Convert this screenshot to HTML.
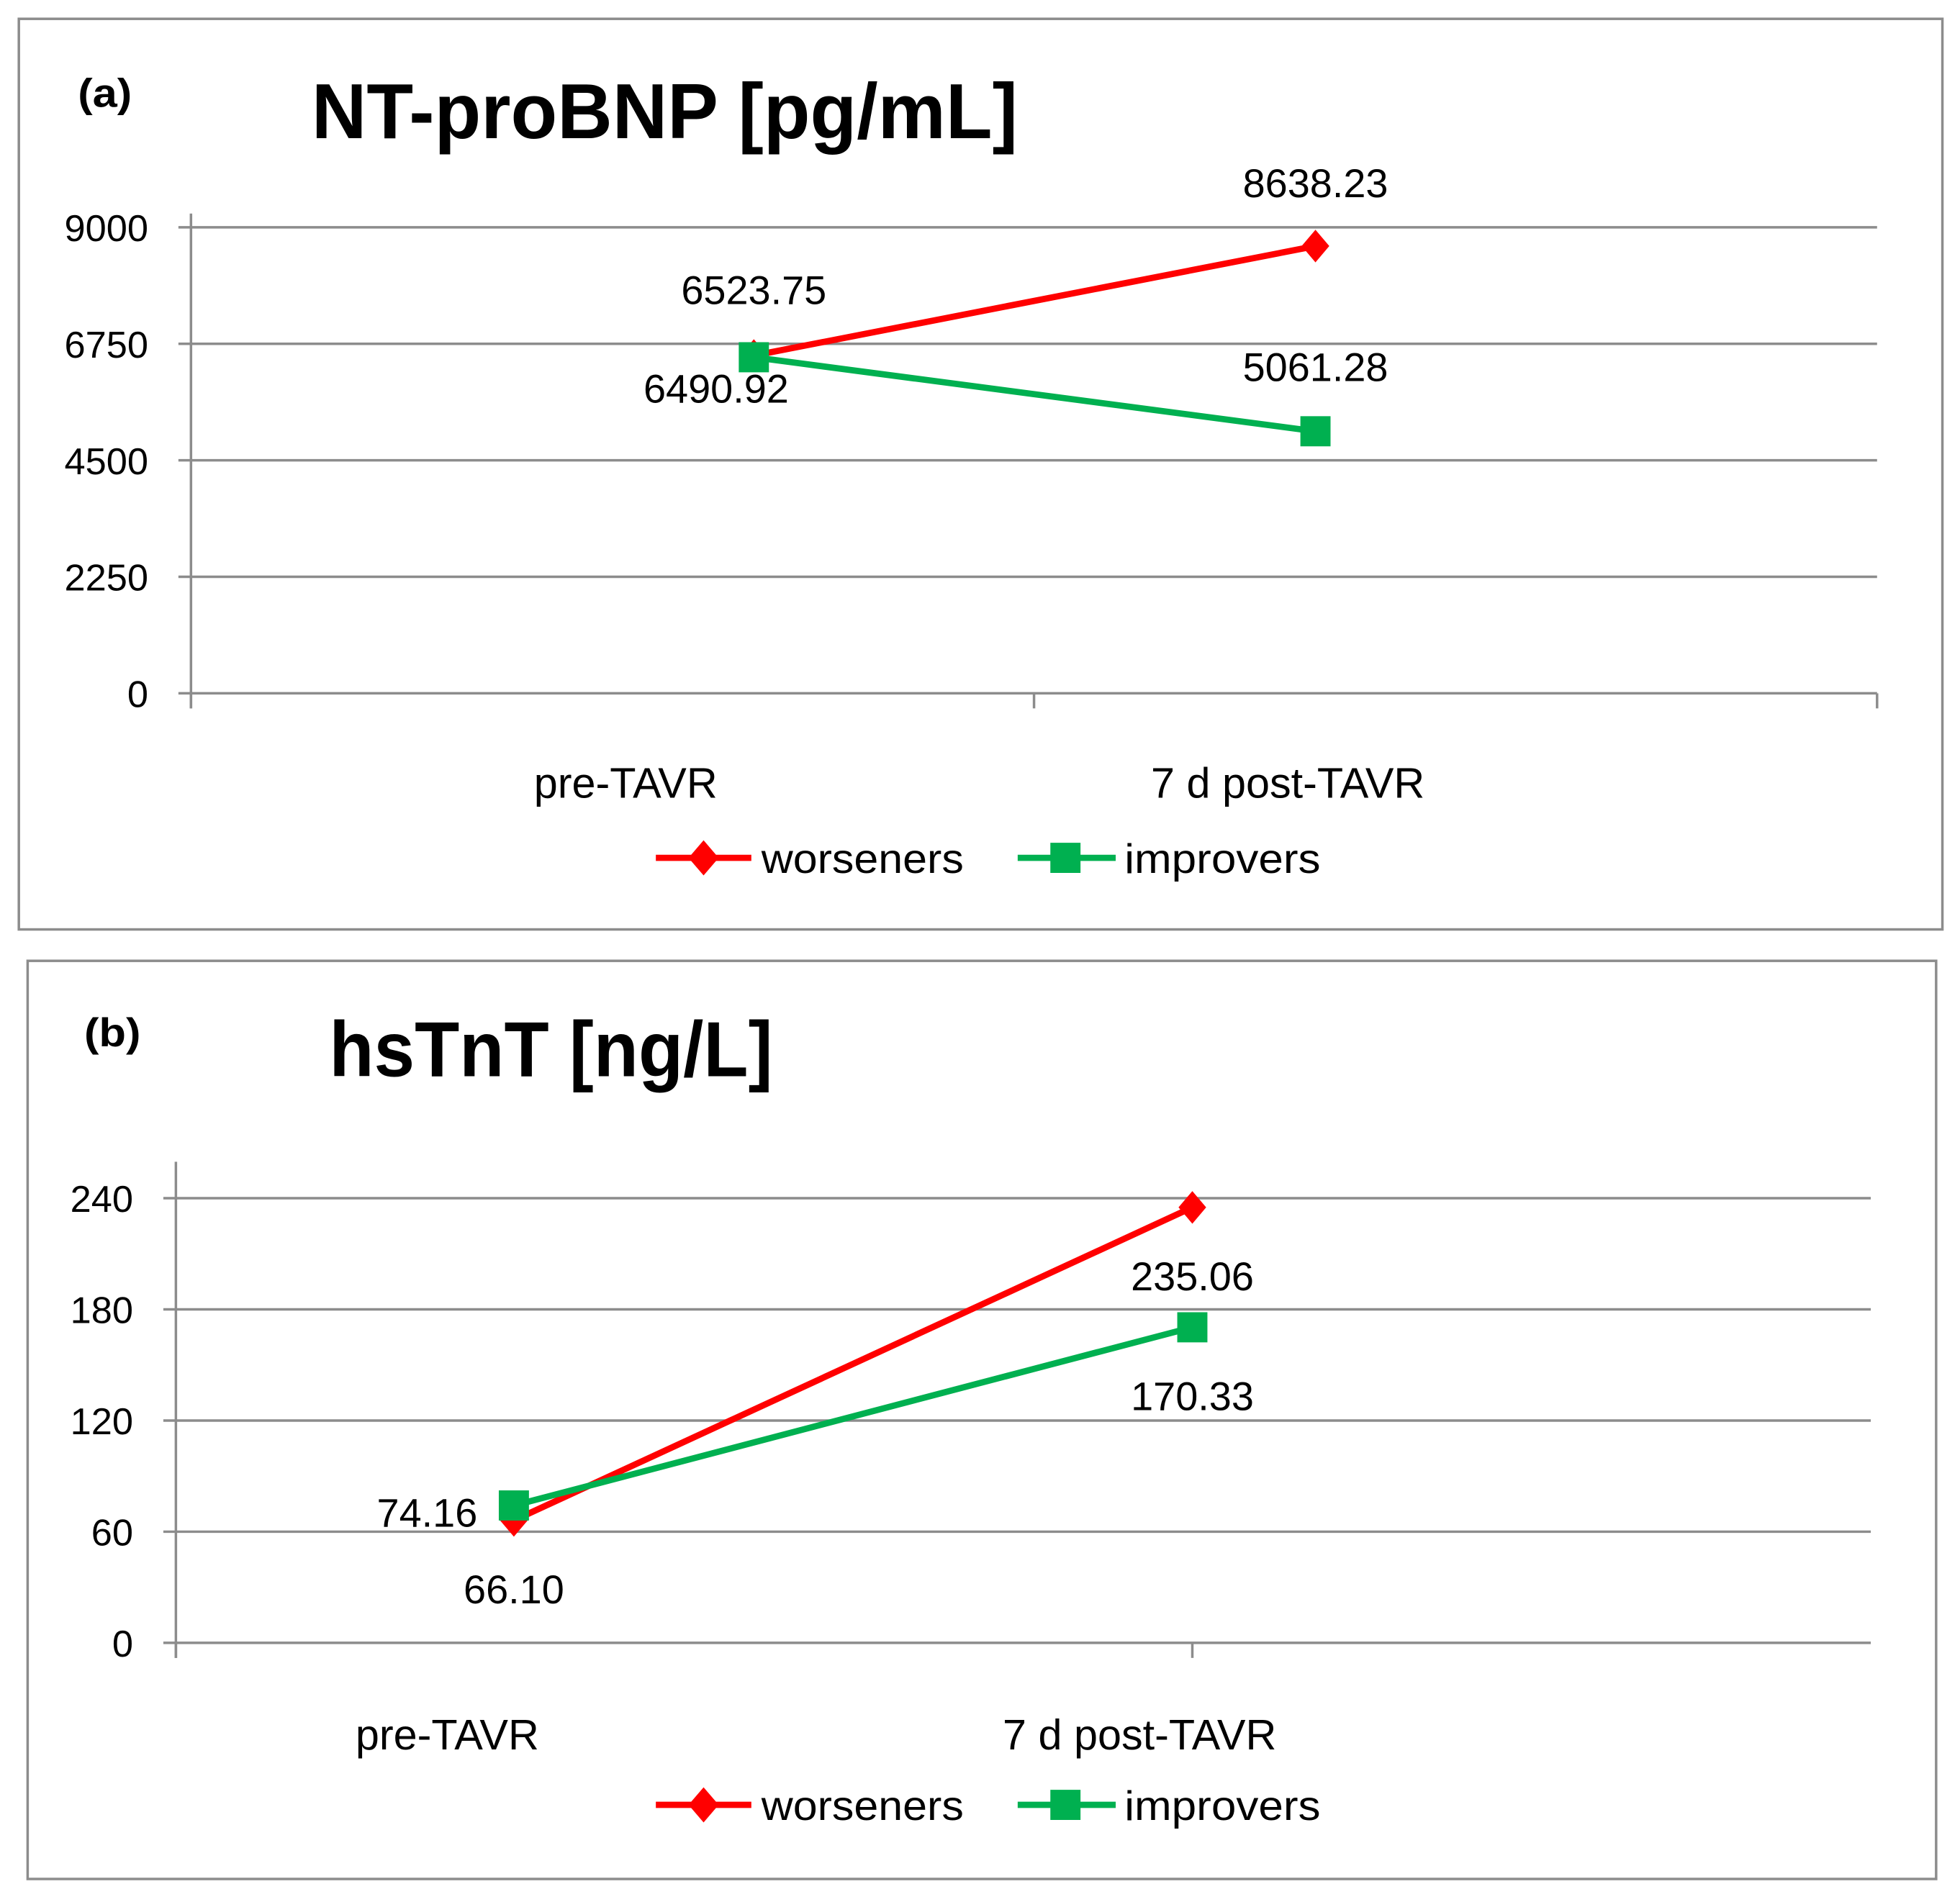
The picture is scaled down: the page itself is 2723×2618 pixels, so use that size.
<!DOCTYPE html>
<html><head><meta charset="utf-8"><style>
html,body{margin:0;padding:0;background:#fff}
svg{display:block}
text{font-family:"Liberation Sans",sans-serif;fill:#000}
</style></head><body>
<svg id="chart" width="2723" height="2618" viewBox="0 0 1560 1500" preserveAspectRatio="none" xmlns="http://www.w3.org/2000/svg">
<rect x="15" y="15" width="1531" height="725" fill="#fff" stroke="#8c8c8c" stroke-width="2"/>
<rect x="22" y="765" width="1519" height="731" fill="#fff" stroke="#8c8c8c" stroke-width="2"/>
<text x="62" y="85" font-size="32" font-weight="bold" textLength="43" lengthAdjust="spacingAndGlyphs">(a)</text>
<text x="248" y="110" font-size="62" font-weight="bold" textLength="562" lengthAdjust="spacingAndGlyphs">NT-proBNP [pg/mL]</text>
<text x="67" y="833" font-size="32" font-weight="bold" textLength="45" lengthAdjust="spacingAndGlyphs">(b)</text>
<text x="262" y="857" font-size="62" font-weight="bold" textLength="353" lengthAdjust="spacingAndGlyphs">hsTnT [ng/L]</text>
<g id="pa"></g><g id="pb"></g>
</svg>
<script>
const categories = ["pre-TAVR", "7 d post-TAVR"];
const ntWorseners = [6523.75, 8638.23];
const ntImprovers = [6490.92, 5061.28];
const ntTicks = [0, 2250, 4500, 6750, 9000];
const tnWorseners = [66.10, 235.06];
const tnImprovers = [74.16, 170.33];
const tnTicks = [0, 60, 120, 180, 240];

const NS = "http://www.w3.org/2000/svg";
function mk(parent, tag, attrs, txt) {
  const e = document.createElementNS(NS, tag);
  for (const k in attrs) e.setAttribute(k, attrs[k]);
  if (txt !== undefined) e.textContent = txt;
  parent.appendChild(e);
  return e;
}
function fmt(v){ return v.toFixed(2); }

function drawPanel(g, cfg) {
  const yMax = cfg.ticks[cfg.ticks.length - 1];
  const ys = v => cfg.y0 - v / yMax * (cfg.y0 - cfg.yTop);
  const xs = i => cfg.px[i];
  cfg.ticks.forEach(t => {
    const l = mk(g, "line", {x1: cfg.x0 - 10, x2: cfg.x1, y1: ys(t), y2: ys(t), stroke: "#8c8c8c", "stroke-width": 2});
    
    
    const tx = mk(g, "text", {x: cfg.x0 - 34, y: ys(t) + 11, "font-size": 30, "text-anchor": "end"}, String(t));
    
    
  });
  const ax = mk(g, "line", {x1: cfg.x0, x2: cfg.x0, y1: cfg.axTop, y2: cfg.y0 + 12, stroke: "#8c8c8c", "stroke-width": 2});
  
  
  cfg.catTicks.forEach(x => {
    const t = mk(g, "line", {x1: x, x2: x, y1: cfg.y0, y2: cfg.y0 + 12, stroke: "#8c8c8c", "stroke-width": 2});
    
    
  });
  categories.forEach((c, i) => {
    const t = mk(g, "text", {x: cfg.catLabelX[i], y: cfg.catLabelY, "font-size": 34, "text-anchor": "middle"}, c);
    
    
  });
  const series = [
    {vals: cfg.w, color: "#ff0000", shape: "diamond", name: "worseners", lab: cfg.wLab},
    {vals: cfg.im, color: "#00b050", shape: "square", name: "improvers", lab: cfg.iLab}
  ];
  series.forEach(s => {
    const pts = s.vals.map((v, i) => xs(i) + "," + ys(v)).join(" ");
    const pl = mk(g, "polyline", {points: pts, fill: "none", stroke: s.color, "stroke-width": 5});
    
    
  });
  series.forEach(s => {
    s.vals.forEach((v, i) => {
      const x = xs(i), y = ys(v);
      let m;
      if (s.shape === "diamond") m = mk(g, "polygon", {points: `${x},${y-13} ${x+11},${y} ${x},${y+13} ${x-11},${y}`, fill: s.color});
      else m = mk(g, "rect", {x: x - 12, y: y - 12, width: 24, height: 24, fill: s.color});
      
      
      const o = s.lab[i];
      const t = mk(g, "text", {x: x + o[0], y: y + o[1], "font-size": 32, "text-anchor": o[2] || "middle"}, fmt(v));
      
      
    });
  });
  // legend
  const ly = cfg.legY;
  const l1 = mk(g, "line", {x1: 522, x2: 598, y1: ly, y2: ly, stroke: "#ff0000", "stroke-width": 5});
  
  
  const d1 = mk(g, "polygon", {points: `560,${ly-14} 572,${ly} 560,${ly+14} 548,${ly}`, fill: "#ff0000"});
  
  
  const t1 = mk(g, "text", {x: 606, y: ly + 12, "font-size": 33, textLength: 161, lengthAdjust: "spacingAndGlyphs"}, "worseners");
  
  
  const l2 = mk(g, "line", {x1: 810, x2: 888, y1: ly, y2: ly, stroke: "#00b050", "stroke-width": 5});
  
  
  const r2 = mk(g, "rect", {x: 836, y: ly - 12, width: 24, height: 24, fill: "#00b050"});
  
  
  const t2 = mk(g, "text", {x: 895, y: ly + 12, "font-size": 33, textLength: 156, lengthAdjust: "spacingAndGlyphs"}, "improvers");
  
  
}

drawPanel(document.getElementById("pa"), {
  ticks: ntTicks, w: ntWorseners, im: ntImprovers,
  x0: 152, x1: 1494, y0: 552, yTop: 181, axTop: 170,
  px: [600, 1047], catTicks: [152, 823, 1494],
  catLabelX: [498, 1025], catLabelY: 635, legY: 683,
  wLab: [[0, -41], [0, -39]], iLab: [[-30, 36], [0, -40]]
});
drawPanel(document.getElementById("pb"), {
  ticks: tnTicks, w: tnWorseners, im: tnImprovers,
  x0: 140, x1: 1489, y0: 1308, yTop: 954, axTop: 925,
  px: [409, 949], catTicks: [140, 949],
  catLabelX: [356, 907], catLabelY: 1393, legY: 1437,
  wLab: [[0, 66], [0, 66]], iLab: [[-29, 17, "end"], [0, 66]]
});
</script>
</body></html>
